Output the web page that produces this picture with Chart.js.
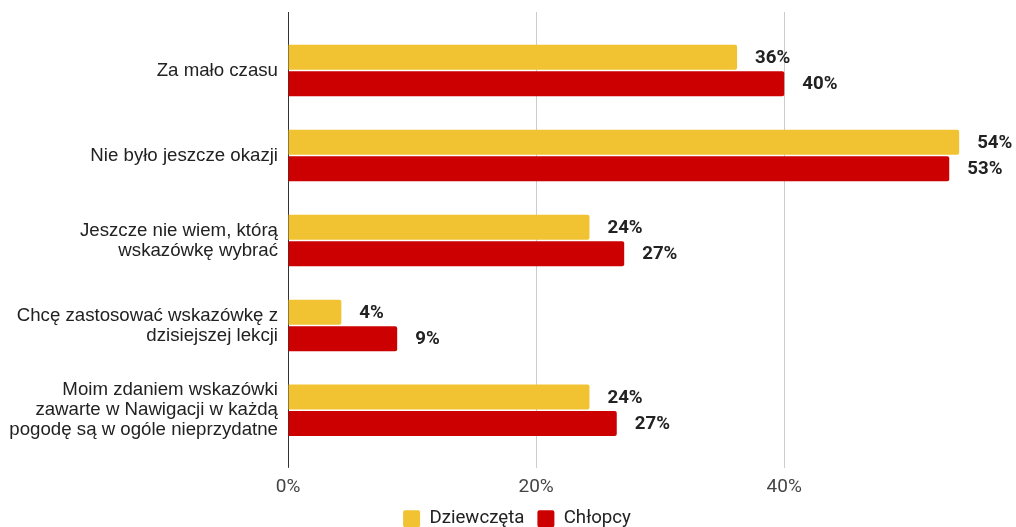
<!DOCTYPE html>
<html>
<head>
<meta charset="utf-8">
<script src="https://cdn.jsdelivr.net/npm/chart.js@4"></script>
<style>
  html, body { margin: 0; padding: 0; background: #fff; overflow: hidden; }
  #wrap { width: 1060px; height: 538px; }
</style>
</head>
<body>
<div id="wrap"><canvas id="reasonChart"></canvas></div>
<script>
// dane
const categories = [
  "Za mało czasu",
  "Nie było jeszcze okazji",
  ["Jeszcze nie wiem, którą", "wskazówkę wybrać"],
  ["Chcę zastosować wskazówkę z", "dzisiejszej lekcji"],
  ["Moim zdaniem wskazówki", "zawarte w Nawigacji w każdą", "pogodę są w ogóle nieprzydatne"],
];
const girls = [36.2, 54.1, 24.3, 4.3, 24.3];
const boys = [40.0, 53.3, 27.1, 8.8, 26.5];
const xTicks = [0, 20, 40, 60];

const gridColor = (ctx) => (ctx.tick && ctx.tick.value === 0 ? "#333" : "#ccc");

// etykiety z wartościami obok słupków
const valueLabels = {
  id: "valueLabels",
  afterDatasetsDraw(chart) {
    const ctx = chart.ctx;
    ctx.save();
    ctx.font = "bold 18.67px Roboto";
    ctx.fillStyle = "#222";
    ctx.textAlign = "left";
    ctx.textBaseline = "middle";
    chart.data.datasets.forEach((ds, i) => {
      chart.getDatasetMeta(i).data.forEach((bar, j) => {
        ctx.fillText(Math.round(ds.data[j]) + "%", bar.x + 18, bar.y + 1);
      });
    });
    ctx.restore();
  },
};

new Chart(document.getElementById("reasonChart"), {
  type: "bar",
  data: {
    labels: categories,
    datasets: [
      {
        label: "Dziewczęta",
        data: girls,
        backgroundColor: "#F1C232",
        borderRadius: 2,
        borderSkipped: "start",
        categoryPercentage: 0.624,
        barPercentage: 0.943,
      },
      {
        label: "Chłopcy",
        data: boys,
        backgroundColor: "#CC0000",
        borderRadius: 2,
        borderSkipped: "start",
        categoryPercentage: 0.624,
        barPercentage: 0.943,
      },
    ],
  },
  options: {
    indexAxis: "y",
    responsive: true,
    maintainAspectRatio: false,
    animation: false,
    layout: { padding: { top: 12, right: 26, left: 0, bottom: 0 } },
    plugins: {
      legend: {
        position: "bottom",
        labels: {
          font: { family: "Roboto", size: 18.67 },
          color: "#222",
          boxWidth: 17,
          boxHeight: 17,
          useBorderRadius: true,
          borderRadius: 2,
          padding: 13,
        },
      },
      tooltip: { enabled: false },
    },
    scales: {
      x: {
        min: 0,
        max: 60,
        afterBuildTicks: (scale) => {
          scale.ticks = xTicks.map((v) => ({ value: v }));
        },
        afterFit: (scale) => {
          scale.height = 43.5;
        },
        ticks: {
          callback: (v) => v + "%",
          font: { family: "Roboto", size: 19, lineHeight: 1 },
          color: "#444",
          padding: 10,
        },
        grid: { color: gridColor, tickLength: 15 },
        border: { display: false },
      },
      x2: {
        type: "linear",
        position: "top",
        min: 0,
        max: 60,
        afterBuildTicks: (scale) => {
          scale.ticks = xTicks.map((v) => ({ value: v }));
        },
        afterFit: (scale) => {
          scale.height = 16;
        },
        ticks: { display: false },
        grid: { color: gridColor, tickLength: 16, drawOnChartArea: false },
        border: { display: false },
      },
      y: {
        afterFit: (scale) => {
          scale.width = 288;
          scale.paddingTop = 0;
          scale.paddingBottom = 0;
        },
        ticks: {
          font: { family: "Liberation Sans", size: 18.67, lineHeight: "20px" },
          color: "#222",
          padding: 10,
        },
        grid: { display: false, drawTicks: false },
        border: { display: false },
      },
    },
  },
  plugins: [valueLabels],
});
</script>
</body>
</html>
